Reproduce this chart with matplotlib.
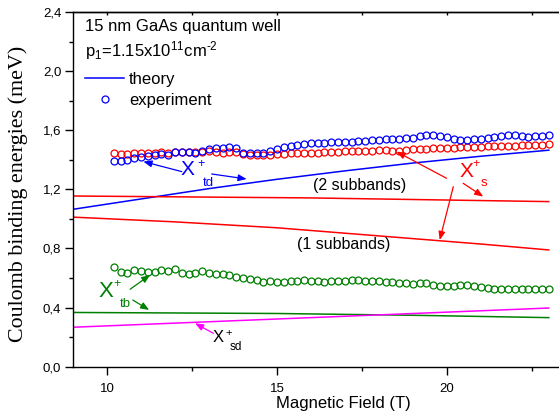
import numpy as np
import matplotlib
matplotlib.use("Agg")
import matplotlib.pyplot as plt
from matplotlib.ticker import MultipleLocator, FuncFormatter
from matplotlib.lines import Line2D

plt.rcParams["font.family"] = ["Liberation Sans", "DejaVu Sans"]
plt.rcParams["mathtext.default"] = "regular"

# measured field grid (T)
field = [10.2, 10.4, 10.6, 10.8, 11.0, 11.2, 11.4, 11.6, 11.8, 12.0,
         12.2, 12.4, 12.6, 12.8, 13.0, 13.2, 13.4, 13.6, 13.8, 14.0,
         14.2, 14.4, 14.6, 14.8, 15.0, 15.2, 15.4, 15.6, 15.8, 16.0,
         16.2, 16.4, 16.6, 16.8, 17.0, 17.2, 17.4, 17.6, 17.8, 18.0,
         18.2, 18.4, 18.6, 18.8, 19.0, 19.2, 19.4, 19.6, 19.8, 20.0,
         20.2, 20.4, 20.6, 20.8, 21.0, 21.2, 21.4, 21.6, 21.8, 22.0,
         22.2, 22.4, 22.6, 22.8, 23.0]

# experiment: triplet X+td (blue)
exp_td = [1.394, 1.394, 1.399, 1.410, 1.421, 1.428, 1.433, 1.437, 1.433, 1.451,
          1.451, 1.451, 1.444, 1.462, 1.471, 1.478, 1.482, 1.485, 1.478, 1.448,
          1.444, 1.444, 1.444, 1.462, 1.471, 1.485, 1.494, 1.500, 1.507, 1.512,
          1.512, 1.516, 1.519, 1.523, 1.523, 1.520, 1.528, 1.530, 1.534, 1.534,
          1.539, 1.539, 1.543, 1.546, 1.550, 1.561, 1.566, 1.566, 1.561, 1.552,
          1.539, 1.532, 1.532, 1.539, 1.539, 1.548, 1.552, 1.561, 1.566, 1.566,
          1.561, 1.552, 1.561, 1.561, 1.568]

# experiment: singlet X+s (red)
exp_s = [1.444, 1.440, 1.440, 1.444, 1.449, 1.446, 1.449, 1.451, 1.449, 1.455,
         1.451, 1.451, 1.455, 1.455, 1.458, 1.451, 1.449, 1.451, 1.451, 1.437,
         1.433, 1.433, 1.433, 1.433, 1.437, 1.440, 1.444, 1.444, 1.449, 1.449,
         1.449, 1.451, 1.455, 1.455, 1.458, 1.462, 1.462, 1.462, 1.462, 1.467,
         1.467, 1.462, 1.462, 1.467, 1.471, 1.471, 1.474, 1.478, 1.478, 1.480,
         1.482, 1.485, 1.487, 1.489, 1.489, 1.492, 1.492, 1.494, 1.496, 1.496,
         1.498, 1.498, 1.500, 1.503, 1.507]

# experiment: X+tb (green)
exp_tb = [0.673, 0.643, 0.636, 0.654, 0.648, 0.641, 0.643, 0.657, 0.648, 0.659,
          0.632, 0.627, 0.632, 0.650, 0.636, 0.627, 0.625, 0.618, 0.609, 0.598,
          0.594, 0.587, 0.575, 0.578, 0.575, 0.575, 0.580, 0.582, 0.585, 0.582,
          0.580, 0.575, 0.580, 0.580, 0.582, 0.585, 0.585, 0.582, 0.582, 0.580,
          0.575, 0.573, 0.569, 0.564, 0.560, 0.564, 0.564, 0.551, 0.546, 0.546,
          0.546, 0.551, 0.551, 0.546, 0.537, 0.533, 0.524, 0.524, 0.524, 0.528,
          0.528, 0.524, 0.524, 0.524, 0.524]

# theory curves
th_td_B = [9, 11, 13, 15, 17, 19, 21, 23]
th_td = [1.065, 1.135, 1.205, 1.268, 1.325, 1.378, 1.424, 1.465]
th_s2_B = [9, 16, 23]
th_s2 = [1.155, 1.142, 1.117]
th_s1_B = [9, 12, 15, 18, 21, 23]
th_s1 = [1.012, 0.980, 0.940, 0.885, 0.830, 0.790]
th_tb_B = [9, 15, 19, 23]
th_tb = [0.367, 0.360, 0.348, 0.332]
th_sd_B = [9, 23]
th_sd = [0.267, 0.397]

BLUE = "#0000ff"
RED = "#ff0000"
GREEN = "#008000"
MAGENTA = "#ff00ff"

fig = plt.figure(figsize=(5.59, 4.18), dpi=100)
ax = fig.add_axes([73 / 559, 51.3 / 418, 486 / 559, 354.7 / 418])

mk = dict(marker="o", ls="none", ms=5, mfc="none", mew=0.9)
ax.plot(field, exp_s, mec=RED, **mk)
ax.plot(field, exp_td, mec=BLUE, **mk)
ax.plot(field, exp_tb, mec=GREEN, **mk)

ax.plot(th_td_B, th_td, color=BLUE, lw=1.1)
ax.plot(th_s2_B, th_s2, color=RED, lw=1.1)
ax.plot(th_s1_B, th_s1, color=RED, lw=1.1)
ax.plot(th_tb_B, th_tb, color=GREEN, lw=1.1)
ax.plot(th_sd_B, th_sd, color=MAGENTA, lw=1.1)

ax.set_xlim(9, 23.3)
ax.set_ylim(0, 2.4)
ax.xaxis.set_major_locator(MultipleLocator(5))
ax.xaxis.set_minor_locator(MultipleLocator(2.5))
ax.yaxis.set_major_locator(MultipleLocator(0.4))
ax.yaxis.set_minor_locator(MultipleLocator(0.2))
ax.yaxis.set_major_formatter(FuncFormatter(lambda v, p: f"{v:.1f}".replace(".", ",")))
ax.spines["right"].set_visible(False)
for s in ["left", "bottom", "top"]:
    ax.spines[s].set_linewidth(1.0)
ax.tick_params(axis="both", which="major", direction="out", length=5.5, width=1.0,
               labelsize=9.5, pad=3)
ax.tick_params(axis="both", which="minor", direction="out", length=3, width=1.0)
ax.tick_params(axis="x", which="major", pad=6)

# top axis: short inward ticks, no labels
top = ax.secondary_xaxis("top")
top.xaxis.set_major_locator(MultipleLocator(5))
top.xaxis.set_minor_locator(MultipleLocator(2.5))
top.tick_params(which="both", direction="in", length=2.5, width=1.0, labeltop=False)
top.spines["top"].set_linewidth(1.0)

ax.set_xlabel("Magnetic Field (T)", fontsize=12)
ax.xaxis.set_label_coords(0.5556, -0.082)
ax.set_ylabel("Coulomb binding energies (meV)", fontsize=15.8,
              family=["Liberation Serif", "DejaVu Serif"])
ax.yaxis.set_label_coords(-0.092, 0.488)

ax.text(9.35, 2.30, "15 nm GaAs quantum well", fontsize=12, va="center")
ax.text(9.35, 2.14, "p$_1$=1.15x10$^{11}$cm$^{\u20102}$", fontsize=12, va="center")

handles = [Line2D([], [], color=BLUE, lw=1.1),
           Line2D([], [], **dict(mk, mec=BLUE))]
ax.legend(handles, ["theory", "experiment"], loc="upper left",
          bbox_to_anchor=(0.0247, 0.832), frameon=False, fontsize=12,
          borderpad=0, borderaxespad=0, handlelength=2.35, handletextpad=0.3,
          labelspacing=0.38)

arrow = lambda c: dict(arrowstyle="-|>,head_length=0.5,head_width=0.2", color=c,
                       lw=0.9, shrinkA=0, shrinkB=0)

# X+td
ax.text(12.38, 1.331, "X", color=BLUE, fontsize=15, ha="center", va="center")
ax.text(12.76, 1.372, "+", color=BLUE, fontsize=9, ha="center", va="center")
ax.text(12.97, 1.245, "td", color=BLUE, fontsize=9.5, ha="center", va="center")
ax.annotate("", xy=(11.07, 1.388), xytext=(12.20, 1.320), arrowprops=arrow(BLUE))
ax.annotate("", xy=(14.11, 1.270), xytext=(13.08, 1.304), arrowprops=arrow(BLUE))

# X+s
ax.text(20.58, 1.320, "X", color=RED, fontsize=15, ha="center", va="center")
ax.text(20.87, 1.372, "+", color=RED, fontsize=9, ha="center", va="center")
ax.text(21.09, 1.245, "s", color=RED, fontsize=9.5, ha="center", va="center")
ax.annotate("", xy=(18.52, 1.455), xytext=(19.99, 1.275), arrowprops=arrow(RED))
ax.annotate("", xy=(21.07, 1.151), xytext=(20.48, 1.241), arrowprops=arrow(RED))
ax.annotate("", xy=(19.79, 0.857), xytext=(20.19, 1.218), arrowprops=arrow(RED))

ax.text(17.44, 1.223, "(2 subbands)", fontsize=11.5, ha="center", va="center")
ax.text(16.97, 0.828, "(1 subbands)", fontsize=11.5, ha="center", va="center")

# X+tb
ax.text(9.97, 0.508, "X", color=GREEN, fontsize=16, ha="center", va="center")
ax.text(10.29, 0.560, "+", color=GREEN, fontsize=9, ha="center", va="center")
ax.text(10.55, 0.424, "tb", color=GREEN, fontsize=9.5, ha="center", va="center")
ax.annotate("", xy=(11.27, 0.621), xytext=(10.68, 0.524), arrowprops=arrow(GREEN))
ax.annotate("", xy=(11.24, 0.384), xytext=(10.76, 0.451), arrowprops=arrow(GREEN))

# X+sd
ax.text(13.27, 0.196, "X", color="black", fontsize=12, ha="center", va="center")
ax.text(13.57, 0.230, "+", color="black", fontsize=8, ha="center", va="center")
ax.text(13.79, 0.135, "sd", color="black", fontsize=8.5, ha="center", va="center")
ax.annotate("", xy=(12.59, 0.294), xytext=(13.13, 0.226), arrowprops=arrow(MAGENTA))

fig.savefig("out.png", dpi=100)
